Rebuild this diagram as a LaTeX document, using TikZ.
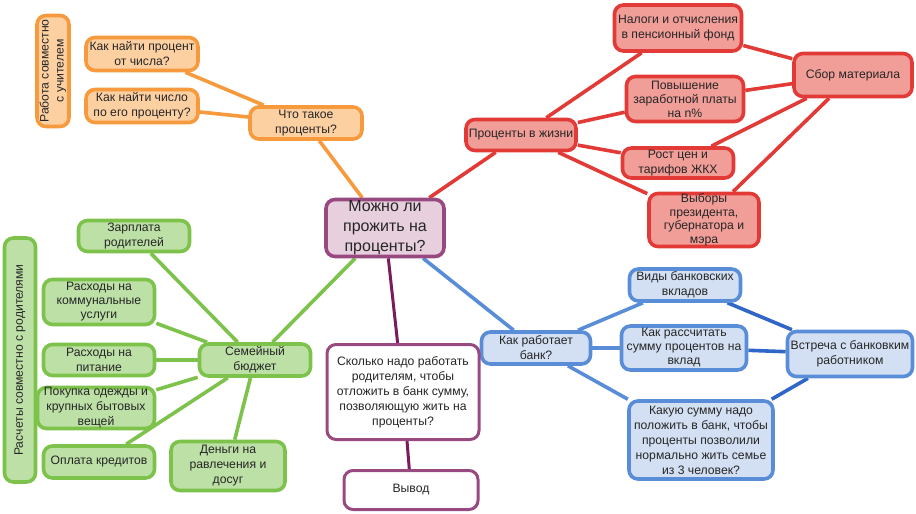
\documentclass[tikz,border=0pt]{standalone}
\usepackage{fontspec}
\setmainfont{Liberation Sans}
\usetikzlibrary{backgrounds}

\definecolor{orgline}{HTML}{F79A3E}
\definecolor{orgfill}{HTML}{FDD0A2}
\definecolor{redline}{HTML}{E23A36}
\definecolor{redfill}{HTML}{F19D98}
\definecolor{grnline}{HTML}{7DC24B}
\definecolor{grnfill}{HTML}{BDE0A6}
\definecolor{bluline}{HTML}{5A8DD8}
\definecolor{blufill}{HTML}{D3E0F4}
\definecolor{bludark}{HTML}{2F66C8}
\definecolor{purline}{HTML}{984A80}
\definecolor{purfill}{HTML}{E7CFDD}
\definecolor{purdark}{HTML}{7A1B5D}

\tikzset{
  box/.style={rectangle, rounded corners=9pt, line width=3.6pt, align=center,
    inner sep=0pt, text=black!85, font=\fontsize{12.2}{15}\selectfont},
  orangebox/.style={box, draw=orgline, fill=orgfill},
  redbox/.style={box, draw=redline, fill=redfill},
  greenbox/.style={box, draw=grnline, fill=grnfill},
  bluebox/.style={box, draw=bluline, fill=blufill},
  purplebox/.style={box, draw=purline, fill=white, line width=3pt},
  mainbox/.style={box, draw=purline, fill=purfill, font=\fontsize{16}{20}\selectfont},
  wh/.style 2 args={minimum width=#1pt, minimum height=#2pt},
  link/.style={line width=3.6pt}
}

\begin{document}
\begin{tikzpicture}[x=1pt,y=-1pt]
  \useasboundingbox (0,0) rectangle (916,514);

  % centre
  \node[mainbox, wh={118}{57}] (main) at (385,228) {Можно ли\\прожить на\\проценты?};

  % orange branch
  \node[orangebox, wh={111}{32}, rotate=90] (teacher) at (53,71) {Работа совместно\\с учителем};
  \node[orangebox, wh={112}{33}] (percent) at (142,54) {Как найти процент\\от числа?};
  \node[orangebox, wh={112}{33}] (number)  at (142,106) {Как найти число\\по его проценту?};
  \node[orangebox, wh={112}{32}] (whatis)  at (306,123) {Что такое\\проценты?};

  % red branch
  \node[redbox, wh={110}{31}] (life)    at (521,135) {Проценты в жизни};
  \node[redbox, wh={127}{46}] (tax)     at (678,28)  {Налоги и отчисления\\в пенсионный фонд};
  \node[redbox, wh={118}{43}] (collect) at (853,75)  {Сбор материала};
  \node[redbox, wh={117}{45}, font=\fontsize{12.2}{14}\selectfont] (salary) at (685,99) {Повышение\\заработной платы\\на n\%};
  \node[redbox, wh={111}{30}] (prices)  at (678,163) {Рост цен и\\тарифов ЖКХ};
  \node[redbox, wh={110}{53}, font=\fontsize{12.2}{13.5}\selectfont] (elect) at (704,220) {Выборы\\президента,\\губернатора и\\мэра};

  % blue branch
  \node[bluebox, wh={109}{32}] (bank)    at (536,348) {Как работает\\банк?};
  \node[bluebox, wh={111}{32}] (kinds)   at (685,285) {Виды банковских\\вкладов};
  \node[bluebox, wh={125}{44}, font=\fontsize{12.2}{14}\selectfont] (calc) at (684,348) {Как рассчитать\\сумму процентов на\\вклад};
  \node[bluebox, wh={125}{45}] (meet)    at (850,354) {Встреча с банковким\\работником};
  \node[bluebox, wh={144}{78}] (howmuch) at (701,440) {Какую сумму надо\\положить в банк, чтобы\\проценты позволили\\нормально жить семье\\из 3 человек?};

  % green branch
  \node[greenbox, wh={244}{31}, rotate=90] (parents) at (20,360) {Расчеты совместно с родителями};
  \node[greenbox, wh={111}{31}] (wage)    at (134,236) {Зарплата\\родителей};
  \node[greenbox, wh={111}{45}, font=\fontsize{12.2}{14}\selectfont] (utility) at (99,302) {Расходы на\\коммунальные\\услуги};
  \node[greenbox, wh={117}{41}] (clothes) at (96,408) {Покупка одежды и\\крупных бытовых\\вещей};
  \node[greenbox, wh={111}{31}] (food)    at (99,360)  {Расходы на\\питание};
  \node[greenbox, wh={111}{32}] (credit)  at (99,462)  {Оплата кредитов};
  \node[greenbox, wh={111}{32}] (budget)  at (255,360) {Семейный\\бюджет};
  \node[greenbox, wh={114}{49}] (leisure) at (228,466) {Деньги на\\равлечения и\\досуг};

  % purple branch
  \node[purplebox, wh={152}{95}] (howlong) at (403,392) {Сколько надо работать\\родителям, чтобы\\отложить в банк сумму,\\позволяющую жить на\\проценты?};
  \node[purplebox, wh={134}{39}] (result)  at (411,490) {Вывод};

  \begin{scope}[on background layer]
    \path[link, draw=orgline]
    (main) edge (whatis)
    (whatis) edge (percent)
    (whatis) edge (number);

    \path[link, draw=redline]
    (main) edge (life)
    (life) edge (tax)
    (life) edge (salary)
    (life) edge (prices)
    (life) edge (elect)
    (collect) edge (tax)
    (collect) edge (salary)
    (collect) edge (prices)
    (collect) edge (elect);

    \path[link, draw=bluline]
    (main) edge (bank)
    (bank) edge (kinds)
    (bank) edge (calc)
    (bank) edge (howmuch);

    \path[link, draw=bludark]
    (meet) edge (kinds)
    (meet) edge (calc)
    (meet) edge (howmuch);

    \path[link, draw=grnline]
    (main) edge (budget)
    (budget) edge (wage)
    (budget) edge (utility)
    (budget) edge (food)
    (budget) edge (clothes)
    (budget) edge (credit)
    (budget) edge (leisure);

    \path[link, draw=purdark, line width=3pt]
    (main) edge (howlong)
    (howlong) edge (result);
  \end{scope}
\end{tikzpicture}
\end{document}
